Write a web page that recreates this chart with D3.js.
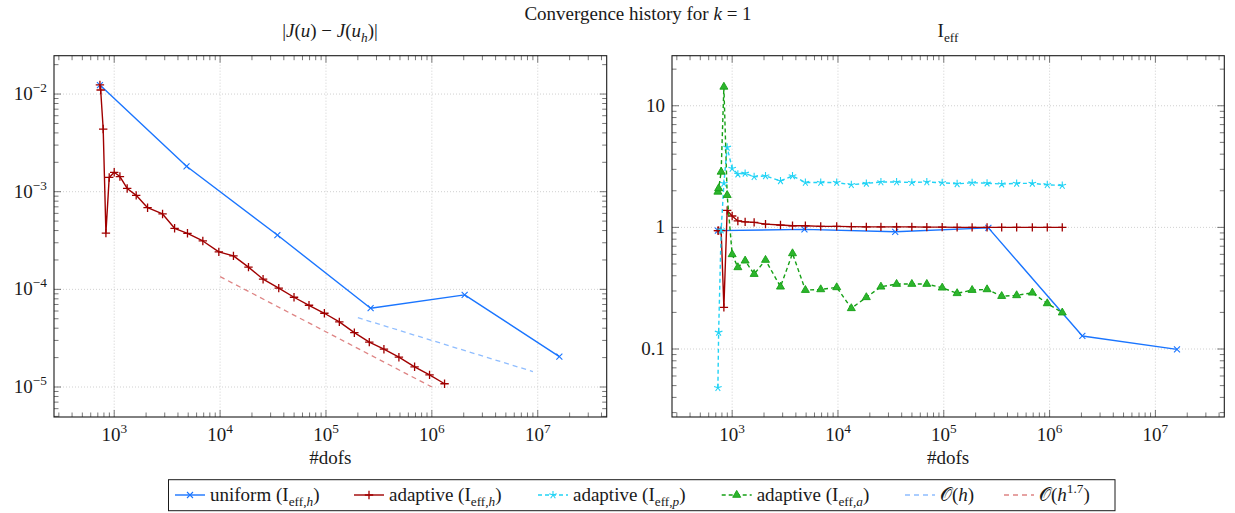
<!DOCTYPE html>
<html><head><meta charset="utf-8">
<script src="https://cdn.jsdelivr.net/npm/d3@7"></script>
<style>
body{margin:0;background:#fff}
svg{display:block}
</style>
</head><body>
<svg id="c" width="1235" height="513" font-family="Liberation Serif"></svg>
<script>
// ---------------- data ----------------
const dofsUniform = [733, 4820, 34750, 264000, 2040000, 16000000];
const errUniform  = [0.01236, 1.82e-3, 3.6e-4, 6.41e-5, 8.77e-5, 2.05e-5];
const ieffUniform = [0.94, 0.963, 0.92, 0.99, 0.128, 0.0994];

const dofsAdaptive = [733, 745, 787, 835, 897, 1000, 1132, 1326, 1613, 2066, 2862, 3718, 4920, 6870, 9730,
  13370, 18540, 25470, 35810, 49910, 69140, 96600, 133700, 185300, 256500, 352600, 488400, 687000, 951000, 1318000];
const errAdaptive = [0.0124, 0.0110, 4.38e-3, 3.77e-4, 1.40e-3, 1.58e-3, 1.43e-3, 1.08e-3, 9.18e-4, 6.86e-4,
  5.92e-4, 4.22e-4, 3.75e-4, 3.13e-4, 2.42e-4, 2.20e-4, 1.69e-4, 1.27e-4, 1.03e-4, 8.30e-5,
  6.87e-5, 5.69e-5, 4.64e-5, 3.60e-5, 2.88e-5, 2.44e-5, 2.02e-5, 1.61e-5, 1.33e-5, 1.08e-5];
const ieffH = [0.94, 0.94, 0.94, 0.22, 1.38, 1.24, 1.13, 1.11, 1.10, 1.064, 1.045, 1.03, 1.03, 1.02, 1.02,
  1.015, 1.01, 1.01, 1.01, 1.01, 1.005, 1.005, 1.0, 1.0, 1.0, 1.0, 1.0, 1.0, 1.0, 1.0];
const ieffP = [0.048, 0.137, 0.95, 2.3, 4.55, 3.05, 2.74, 2.78, 2.61, 2.65, 2.41, 2.65, 2.34, 2.34, 2.34,
  2.24, 2.30, 2.36, 2.36, 2.34, 2.36, 2.33, 2.28, 2.33, 2.31, 2.27, 2.30, 2.30, 2.24, 2.21];
const ieffA = [1.96, 2.09, 2.86, 14.3, 1.84, 0.60, 0.469, 0.532, 0.413, 0.539, 0.325, 0.611, 0.305, 0.309, 0.321,
  0.216, 0.266, 0.325, 0.342, 0.342, 0.342, 0.319, 0.287, 0.305, 0.309, 0.272, 0.276, 0.290, 0.237, 0.199];

const refHDofs = [2.0e5, 9.0e6];
const refHVals = [5.13e-5, 1.44e-5];
const refH17Dofs = [1.0e4, 1.0e6];
const refH17Vals = [1.35e-4, 1.0e-5];

const xTicks = [1e3, 1e4, 1e5, 1e6, 1e7];
const xTickExp = ["3", "4", "5", "6", "7"];
const yTicksLeft = [1e-5, 1e-4, 1e-3, 1e-2];
const yTickLeftExp = ["−5", "−4", "−3", "−2"];
const yTicksRight = [0.1, 1, 10];
const yTickRightLabels = ["0.1", "1", "10"];

// ---------------- styles ----------------
const C = {
  uniform: "#1a75ff",
  adaptive: "#a00000",
  cyan: "#22d3f5",
  green: "#15a015",
  greenFill: "#2db52d",
  refH: "#8fbdff",
  refH17: "#de8484"
};
const FS = 19;
const FONT = '"Liberation Serif"';

const svg = d3.select("#c");
const graphics = svg.append("g");

// all text goes directly under the root svg
function rich(x, y, parts, opts = {}) {
  const fs = opts.fs || FS;
  const t = svg.append("text").attr("x", x).attr("y", y)
    .attr("font-family", "Liberation Serif")
    .style("font-family", FONT).style("font-size", fs + "px").style("fill", "#1a1a1a")
    .attr("text-anchor", opts.anchor || "start");
  let shift = 0;
  parts.forEach(p => {
    const ts = t.append("tspan").text(p.t).style("font-family", FONT);
    const target = p.sub ? fs * 0.28 : p.sup ? -fs * 0.42 : 0;
    ts.attr("dy", target - shift);
    shift = target;
    ts.style("font-size", ((p.sub || p.sup) ? fs * 0.7 : fs) + "px");
    if (p.i) ts.style("font-style", "italic");
  });
  return t;
}

function minorTicks(lo, hi) {
  const out = [];
  for (let e = Math.floor(Math.log10(lo)); e <= Math.ceil(Math.log10(hi)); e++) {
    for (let m = 1; m <= 9; m++) {
      const v = m * Math.pow(10, e);
      if (v >= lo && v <= hi) out.push({ v, major: m === 1 });
    }
  }
  return out;
}

function markerPath(type) {
  if (type === "x") return "M-3,-3L3,3M-3,3L3,-3";
  if (type === "+") return "M-4.2,0H4.2M0,-4.2V4.2";
  if (type === "star") {
    let d = "";
    for (let k = 0; k < 5; k++) {
      const a = -Math.PI / 2 + k * 2 * Math.PI / 5;
      d += `M0,0L${(4 * Math.cos(a)).toFixed(2)},${(4 * Math.sin(a)).toFixed(2)}`;
    }
    return d;
  }
  if (type === "tri") return "M0,-4.6L4,2.3L-4,2.3Z";
}

function drawMarker(g, x, y, type, color) {
  const p = g.append("path").attr("d", markerPath(type)).attr("transform", `translate(${x},${y})`);
  if (type === "tri") p.attr("fill", C.greenFill).attr("stroke", C.green).attr("stroke-width", 0.9);
  else p.attr("fill", "none").attr("stroke", color).attr("stroke-width", type === "+" ? 1.3 : 1.1);
}

function panel(opts) {
  const { x0, x1, y0, y1, yDomain } = opts;
  const g = graphics.append("g");
  const xs = d3.scaleLog().domain([270, 4.48e7]).range([x0, x1]);
  const ys = d3.scaleLog().domain(yDomain).range([y1, y0]);

  const grid = g.append("g").attr("stroke", "#c4c4c4").attr("stroke-width", 0.8).attr("stroke-dasharray", "1,2");
  xTicks.forEach(v => grid.append("line").attr("x1", xs(v)).attr("x2", xs(v)).attr("y1", y0).attr("y2", y1));
  opts.yTicks.forEach(v => grid.append("line").attr("x1", x0).attr("x2", x1).attr("y1", ys(v)).attr("y2", ys(v)));

  const tk = g.append("g").attr("stroke", "#555").attr("stroke-width", 0.8);
  minorTicks(...xs.domain()).forEach(t => {
    const L = t.major ? 7 : 4.5, x = xs(t.v);
    tk.append("line").attr("x1", x).attr("x2", x).attr("y1", y1).attr("y2", y1 - L);
    tk.append("line").attr("x1", x).attr("x2", x).attr("y1", y0).attr("y2", y0 + L);
  });
  minorTicks(...yDomain).forEach(t => {
    const L = t.major ? 7 : 4.5, y = ys(t.v);
    tk.append("line").attr("x1", x0).attr("x2", x0 + L).attr("y1", y).attr("y2", y);
    tk.append("line").attr("x1", x1).attr("x2", x1 - L).attr("y1", y).attr("y2", y);
  });

  xTicks.forEach((v, i) => rich(xs(v), 441, [{ t: "10" }, { t: xTickExp[i], sup: true }], { anchor: "middle" }));
  opts.yTicks.forEach((v, i) => rich(x0 - 7, ys(v) + 6, opts.yLabelParts(i), { anchor: "end" }));
  rich((x0 + x1) / 2, 464, [{ t: "#dofs" }], { anchor: "middle" });

  const marks = g.append("g");
  const line = d3.line().x(d => xs(d[0])).y(d => ys(d[1]));

  function series(xv, yv, color, marker, dash, width) {
    const pts = xv.map((x, i) => [x, yv[i]]);
    marks.append("path").attr("d", line(pts)).attr("fill", "none").attr("stroke", color)
      .attr("stroke-width", width || 1.4).attr("stroke-dasharray", dash || null).attr("stroke-linejoin", "round");
    if (marker) pts.forEach(p => drawMarker(marks, xs(p[0]), ys(p[1]), marker, color));
  }
  opts.draw(series);

  g.append("rect").attr("x", x0).attr("y", y0).attr("width", x1 - x0).attr("height", y1 - y0)
    .attr("fill", "none").attr("stroke", "#1a1a1a").attr("stroke-width", 1.1);
}

panel({
  x0: 54, x1: 606.7, y0: 55.7, y1: 417, yDomain: [4.93e-6, 0.0247], yTicks: yTicksLeft,
  yLabelParts: i => [{ t: "10" }, { t: yTickLeftExp[i], sup: true }],
  draw: s => {
    s(dofsUniform, errUniform, C.uniform, "x");
    s(dofsAdaptive, errAdaptive, C.adaptive, "+");
    s(refHDofs, refHVals, C.refH, null, "5,4", 1.3);
    s(refH17Dofs, refH17Vals, C.refH17, null, "5,4", 1.3);
  }
});

panel({
  x0: 672, x1: 1224.3, y0: 55.7, y1: 417, yDomain: [0.0276, 25.8], yTicks: yTicksRight,
  yLabelParts: i => [{ t: yTickRightLabels[i] }],
  draw: s => {
    s(dofsUniform, ieffUniform, C.uniform, "x");
    s(dofsAdaptive, ieffH, C.adaptive, "+");
    s(dofsAdaptive, ieffP, C.cyan, "star", "4,3");
    s(dofsAdaptive, ieffA, C.green, "tri", "4,3");
  }
});

rich(638, 20, [{ t: "Convergence history for " }, { t: "k", i: true }, { t: " = 1" }], { anchor: "middle" });
rich(330, 37, [{ t: "|" }, { t: "J", i: true }, { t: "(" }, { t: "u", i: true }, { t: ") − " },
  { t: "J", i: true }, { t: "(" }, { t: "u", i: true }, { t: "h", i: true, sub: true }, { t: ")|" }], { anchor: "middle" });
rich(948, 37, [{ t: "I" }, { t: "eff", sub: true }], { anchor: "middle" });

const lg = graphics.append("g");
lg.append("rect").attr("x", 168.5).attr("y", 479.7).attr("width", 946.5).attr("height", 31)
  .attr("fill", "#fff").attr("stroke", "#1a1a1a").attr("stroke-width", 1);
const legendItems = [
  { x: 175, color: C.uniform, marker: "x", dash: null, parts: [{ t: "uniform (I" }, { t: "eff,", sub: true }, { t: "h", sub: true, i: true }, { t: ")" }] },
  { x: 354, color: C.adaptive, marker: "+", dash: null, parts: [{ t: "adaptive (I" }, { t: "eff,", sub: true }, { t: "h", sub: true, i: true }, { t: ")" }] },
  { x: 538, color: C.cyan, marker: "star", dash: "4,3", parts: [{ t: "adaptive (I" }, { t: "eff,", sub: true }, { t: "p", sub: true, i: true }, { t: ")" }] },
  { x: 721.7, color: C.green, marker: "tri", dash: "4,3", parts: [{ t: "adaptive (I" }, { t: "eff,", sub: true }, { t: "a", sub: true, i: true }, { t: ")" }] },
  { x: 905, color: C.refH, marker: null, dash: "5,4", parts: [{ t: "𝒪(" }, { t: "h", i: true }, { t: ")" }] },
  { x: 1004, color: C.refH17, marker: null, dash: "5,4", parts: [{ t: "𝒪(" }, { t: "h", i: true }, { t: "1.7", sup: true }, { t: ")" }] }
];
legendItems.forEach(it => {
  const y = 495;
  lg.append("line").attr("x1", it.x).attr("x2", it.x + 30).attr("y1", y).attr("y2", y)
    .attr("stroke", it.color).attr("stroke-width", 1.4).attr("stroke-dasharray", it.dash);
  if (it.marker) drawMarker(lg, it.x + 15, y, it.marker, it.color);
});
// legend texts after the legend box (drawn above it)
legendItems.forEach(it => rich(it.x + 35, 501, it.parts));
</script>
</body></html>
